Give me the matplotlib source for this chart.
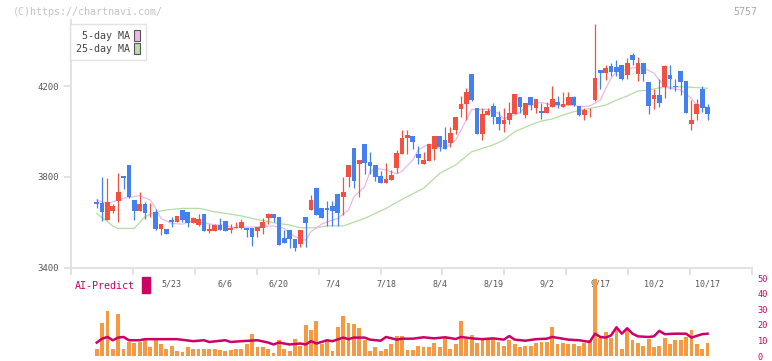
import matplotlib.pyplot as plt
import numpy as np
from matplotlib.patches import Patch, Rectangle
from matplotlib.transforms import blended_transform_factory

# daily candles (open, high, low, close), oldest first
opens = [3688, 3691, 3687, 3611, 3650, 3694, 3806, 3854, 3699, 3652,
         3681, 3645, 3646, 3571, 3571, 3611, 3603, 3655, 3646, 3599,
         3589, 3637, 3564, 3564, 3589, 3607, 3567, 3574, 3577, 3577,
         3577, 3564, 3574, 3621, 3637, 3624, 3533, 3568, 3526, 3505,
         3624, 3656, 3752, 3664, 3664, 3671, 3725, 3713, 3800, 3927,
         3858, 3945, 3866, 3853, 3804, 3775, 3788, 3840, 3902, 3971,
         3980, 3902, 3858, 3872, 3924, 3980, 3963, 3948, 4005, 4100,
         4121, 4253, 4103, 3990, 4074, 4112, 4062, 4034, 4049, 4077,
         4152, 4073, 4152, 4103, 4089, 4080, 4109, 4130, 4109, 4118,
         4150, 4112, 4073, 4093, 4138, 4270, 4258, 4288, 4283, 4292,
         4250, 4336, 4254, 4301, 4217, 4143, 4160, 4195, 4248, 4197,
         4266, 4222, 4033, 4077, 4187, 4108]
highs = [3690, 3702, 3801, 3796, 3681, 3819, 3806, 3854, 3699, 3733,
         3691, 3684, 3659, 3593, 3571, 3625, 3629, 3655, 3646, 3626,
         3637, 3637, 3593, 3593, 3619, 3607, 3593, 3603, 3614, 3577,
         3577, 3580, 3621, 3640, 3637, 3624, 3568, 3568, 3526, 3567,
         3624, 3721, 3752, 3664, 3694, 3694, 3725, 3801, 3853, 3927,
         3875, 3945, 3910, 3853, 3826, 3861, 3832, 3920, 4005, 4005,
         3980, 3938, 3908, 3945, 3980, 3980, 4020, 4020, 4064, 4157,
         4190, 4253, 4103, 4103, 4103, 4124, 4091, 4103, 4130, 4165,
         4152, 4125, 4152, 4143, 4124, 4130, 4200, 4156, 4174, 4174,
         4156, 4112, 4103, 4103, 4472, 4270, 4292, 4301, 4314, 4292,
         4323, 4345, 4327, 4301, 4217, 4187, 4231, 4292, 4292, 4231,
         4266, 4222, 4138, 4143, 4200, 4121]
lows = [3688, 3664, 3608, 3611, 3640, 3603, 3746, 3706, 3611, 3652,
        3614, 3625, 3567, 3546, 3551, 3579, 3603, 3603, 3579, 3597,
        3585, 3564, 3555, 3564, 3567, 3564, 3555, 3574, 3571, 3538,
        3498, 3538, 3549, 3592, 3602, 3502, 3511, 3489, 3476, 3494,
        3494, 3656, 3634, 3621, 3585, 3585, 3585, 3634, 3757, 3753,
        3713, 3813, 3813, 3784, 3775, 3775, 3788, 3816, 3900, 3900,
        3923, 3858, 3858, 3872, 3875, 3913, 3924, 3933, 3988, 4064,
        4049, 4134, 3990, 3961, 4074, 4032, 4008, 4000, 4034, 4077,
        4080, 4061, 4094, 4080, 4055, 4080, 4109, 4102, 4109, 4118,
        4114, 4068, 4050, 4065, 4134, 4187, 4226, 4244, 4244, 4226,
        4231, 4292, 4222, 4222, 4077, 4099, 4109, 4148, 4187, 4178,
        4160, 4081, 4006, 4050, 4086, 4050]
closes = [3690, 3680, 3647, 3691, 3672, 3734, 3797, 3713, 3652, 3681,
          3643, 3647, 3571, 3593, 3551, 3601, 3628, 3611, 3599, 3620,
          3615, 3564, 3571, 3589, 3567, 3564, 3574, 3579, 3603, 3567,
          3538, 3580, 3602, 3637, 3621, 3502, 3511, 3526, 3489, 3567,
          3599, 3699, 3634, 3621, 3655, 3652, 3643, 3734, 3853, 3784,
          3875, 3863, 3850, 3801, 3775, 3791, 3809, 3905, 3971, 3985,
          3955, 3885, 3875, 3945, 3980, 3933, 3924, 3992, 4064, 4121,
          4172, 4140, 3990, 4077, 4091, 4062, 4034, 4052, 4081, 4165,
          4106, 4125, 4115, 4143, 4080, 4106, 4143, 4117, 4121, 4150,
          4118, 4073, 4094, 4095, 4235, 4258, 4279, 4261, 4261, 4231,
          4301, 4314, 4301, 4254, 4113, 4160, 4127, 4288, 4231, 4195,
          4217, 4081, 4050, 4121, 4103, 4077]

# moving averages (candle index, price)
ma5_idx = [1, 3, 6, 9, 11, 12, 13, 15, 17, 19, 21, 23, 25, 26, 28, 31, 34, 36,
           37, 39, 40, 41, 43, 44, 46, 48, 49, 51, 52, 53, 55, 57, 58, 60, 61,
           63, 65, 66, 68, 69, 71, 72, 74, 76, 77, 80, 81, 84, 86, 89, 92, 93,
           95, 96, 97, 98, 100, 101, 103, 105, 106, 107, 108, 110, 112, 113, 115]
ma5_val = [3699, 3684, 3706, 3718, 3699, 3662, 3618, 3596, 3593, 3608, 3599,
           3589, 3589, 3579, 3579, 3581, 3585, 3574, 3552, 3526, 3523, 3560,
           3593, 3603, 3618, 3655, 3713, 3757, 3823, 3838, 3831, 3813, 3826,
           3875, 3919, 3945, 3927, 3927, 3963, 4007, 4097, 4097, 4097, 4080,
           4055, 4083, 4109, 4128, 4116, 4116, 4109, 4112, 4138, 4190, 4234,
           4263, 4273, 4280, 4280, 4256, 4226, 4197, 4190, 4182, 4146, 4116,
           4106]
ma25_idx = [1, 4, 5, 8, 10, 12, 14, 17, 20, 21, 23, 25, 28, 30, 34, 37, 39, 42,
            44, 47, 48, 51, 53, 55, 58, 62, 65, 68, 71, 75, 77, 79, 82, 84, 86,
            88, 90, 94, 96, 98, 100, 102, 104, 106, 110, 115]
ma25_val = [3640, 3585, 3574, 3574, 3625, 3647, 3655, 3662, 3662, 3658, 3647,
            3640, 3629, 3618, 3599, 3589, 3577, 3577, 3585, 3585, 3593, 3618,
            3640, 3662, 3702, 3750, 3816, 3853, 3911, 3941, 3963, 3999, 4029,
            4046, 4055, 4072, 4087, 4106, 4116, 4138, 4156, 4178, 4182, 4192,
            4197, 4190]

# volume panel (first bar sits under the second candle)
vol_start = 1
volumes = [4.8, 21.2, 28.7, 4.2, 26.9, 4.2, 9.2, 8.6, 9.2, 10.1, 5.5, 11.8,
           7.4, 4.8, 6.3, 2.9, 2.3, 5.5, 4.8, 4.8, 4.8, 4.2, 4.2, 3.6, 2.9,
           3.6, 4.8, 4.8, 8.0, 14.3, 5.5, 5.5, 4.8, 1.7, 10.5, 4.8, 2.9, 11.1,
           6.7, 19.9, 16.8,
           22.5, 7.4, 10.5, 3.1, 18.7, 25.6, 21.2, 20.6, 18.1, 10.5, 3.1, 5.5,
           2.9, 4.8, 7.4, 13.0, 13.0, 3.6, 3.6, 6.7, 5.5, 5.5, 8.6, 5.5, 11.8,
           4.8, 8.0, 22.5, 11.1, 13.6, 8.6, 11.1, 11.1, 11.8, 9.2, 6.7, 10.5,
           8.0, 5.5, 6.7, 6.7, 8.6, 9.2, 9.2, 18.7,
           8.0, 8.6, 7.4, 8.0, 6.7, 8.6, 10.5, 49.5, 11.8, 15.5, 11.8, 16.8,
           4.8, 16.8, 10.5, 8.6, 6.1, 11.1, 5.5, 6.7, 11.8, 7.4, 10.5, 10.5,
           12.4, 16.8, 7.4, 4.8, 8.6]
ai_idx = [1, 2, 3, 4, 5, 6, 7, 9, 10, 13, 16, 19, 21, 22, 25, 26, 28, 31, 33,
          34, 35, 37, 39, 40, 41, 42, 44, 45, 47, 48, 49, 51, 52, 54, 55, 57,
          58, 60, 62, 64, 66, 68, 69, 71, 73, 75, 77, 78, 79, 81, 83, 85, 86,
          88, 89, 91, 93, 94, 95, 96, 97, 98, 99, 100, 101, 102, 104, 105, 106,
          107, 109, 111, 112, 114, 115]
ai_val = [8.6, 11.1, 12.2, 10.1, 11.8, 12.2, 10.1, 10.1, 10.8, 10.8, 10.8,
          9.5, 10.1, 9.0, 10.1, 9.0, 9.5, 10.1, 8.6, 7.4, 8.6, 7.4, 8.0, 7.4,
          9.5, 8.0, 10.1, 9.5, 11.8, 10.8, 11.8, 11.8, 10.5, 9.8, 12.2, 10.5,
          11.1, 11.1, 12.0, 11.3, 12.0, 10.9, 12.2, 11.3, 10.8, 11.3, 10.5,
          12.8, 10.5, 9.8, 10.8, 11.1, 12.2, 11.1, 10.5, 10.1, 9.0, 14.3, 12.2,
          11.8, 13.2, 18.4, 14.3, 17.8, 14.3, 12.6, 12.2, 12.6, 16.1, 14.0,
          14.3, 14.3, 11.8, 14.0, 14.3]

date_pos = [15, 25, 35, 45, 55, 65, 75, 85, 95, 105, 115]
date_labels = ["5/23", "6/6", "6/20", "7/4", "7/18", "8/4", "8/19", "9/2",
               "9/17", "10/2", "10/17"]
price_ticks = [3400, 3800, 4200]
vol_ticks = [0, 10, 20, 30, 40, 50]

UP = "#f2513f"
DOWN = "#4480ee"
MAGENTA = "#cc0066"
MONO = "DejaVu Sans Mono"

W, H = 772, 361
fig = plt.figure(figsize=(W / 100, H / 100), dpi=100)
xlim = (-3.8, 123.3)

# price panel
ax = fig.add_axes([71 / W, 1 - 268 / H, 681 / W, 248 / H])
x = np.arange(len(closes))
o = np.array(opens)
c = np.array(closes)
colors = [UP if cc >= oo else DOWN for oo, cc in zip(o, c)]
body_lo = np.minimum(o, c)
body_h = np.maximum(np.abs(c - o), 3)

ax.plot(ma25_idx, ma25_val, color="#b4dca4", lw=0.9, zorder=1)
ax.plot(ma5_idx, ma5_val, color="#ecb8ec", lw=0.9, zorder=1)
ax.vlines(x, lows, highs, color=colors, lw=0.9, zorder=2)
ax.bar(x, body_h, bottom=body_lo, width=0.88, color=colors, zorder=3)

ax.set_xlim(*xlim)
ax.set_ylim(3400, 3400 + 248 * 400 / 91)
for s in ["top", "right"]:
    ax.spines[s].set_visible(False)
for s in ["left", "bottom"]:
    ax.spines[s].set_color("#e2e2e2")
    ax.spines[s].set_linewidth(1.5)
ax.set_yticks(price_ticks)
ax.set_yticklabels([str(t) for t in price_ticks], family=MONO, fontsize=6.5,
                   color="#555555")
ax.set_xticks(np.linspace(xlim[0], xlim[1], 12))
ax.set_xticklabels([])
ax.tick_params(axis="both", color="#dddddd", length=5, width=1.2)
ax.tick_params(axis="y", pad=4)

trans = blended_transform_factory(ax.transData, ax.transAxes)
for p, lab in zip(date_pos, date_labels):
    ax.text(p, -0.063, lab, transform=trans, ha="center", va="center",
            family=MONO, fontsize=6, color="#555555")

handles = [Patch(facecolor="#ecb8ec", edgecolor="#555555", lw=0.8, label="5-day MA"),
           Patch(facecolor="#bcdcb0", edgecolor="#555555", lw=0.8, label="25-day MA")]
leg = ax.legend(handles=handles, loc="upper left", markerfirst=False,
                bbox_to_anchor=(70 / W, 1 - 24 / H), bbox_transform=fig.transFigure,
                borderaxespad=0, fancybox=False, edgecolor="#dddddd",
                handlelength=0.55, handleheight=1.3, handletextpad=0.4,
                labelspacing=0.25, borderpad=0.6,
                prop={"family": MONO, "size": 7.2})
for t in leg.get_texts():
    t.set_color("#444444")

# volume / AI-Predict panel
ax2 = fig.add_axes([71 / W, 1 - 356 / H, 681 / W, 78 / H])
vx = np.arange(vol_start, vol_start + len(volumes))
ax2.bar(vx, volumes, width=0.72, color="#f59a43", zorder=1)
ax2.plot(ai_idx, ai_val, color=MAGENTA, lw=1.8, zorder=2)
ax2.set_xlim(*xlim)
ax2.set_ylim(0, 50)
for s in ax2.spines.values():
    s.set_visible(False)
ax2.set_xticks([])
ax2.yaxis.tick_right()
ax2.set_yticks(vol_ticks)
ax2.set_yticklabels([str(t) for t in vol_ticks], family=MONO, fontsize=6.2,
                    color=MAGENTA)
ax2.tick_params(axis="y", length=0, pad=4)
ax2.patch.set_alpha(0)

fig.text(75 / W, 1 - 286 / H, "AI-Predict", family=MONO, fontsize=7.2,
         color=MAGENTA, va="center")
fig.patches.append(Rectangle((142 / W, 1 - 293 / H), 8 / W, 16 / H,
                             transform=fig.transFigure, color=MAGENTA))

fig.text(13 / W, 1 - 12 / H, "(C)https://chartnavi.com/", family=MONO,
         fontsize=7.2, color="#c4c4c4", va="center")
fig.text(757 / W, 1 - 12 / H, "5757", family=MONO, fontsize=7.2,
         color="#aaaaaa", va="center", ha="right")

fig.savefig("out.png", dpi=100)
